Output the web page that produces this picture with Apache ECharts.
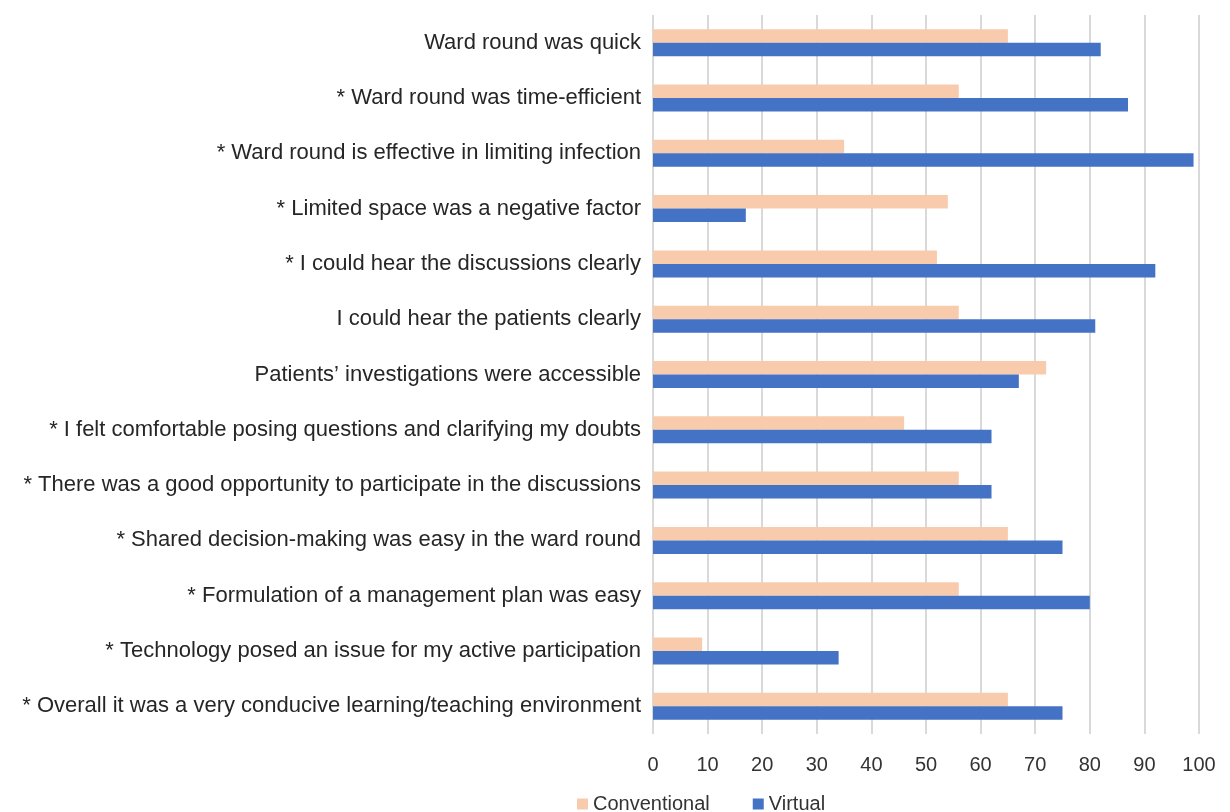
<!DOCTYPE html>
<html>
<head>
<meta charset="utf-8">
<script src="https://cdn.jsdelivr.net/npm/echarts@6/dist/echarts.min.js"></script>
<style>
  html, body { margin: 0; padding: 0; background: #fff; }
  #chart { width: 1230px; height: 812px; }
</style>
</head>
<body>
<div id="chart"></div>
<script>
var categories = [
    'Ward round was quick',
    '* Ward round was time-efficient',
    '* Ward round is effective in limiting infection',
    '* Limited space was a negative factor',
    '* I could hear the discussions clearly',
    'I could hear the patients clearly',
    'Patients\u2019 investigations were accessible',
    '* I felt comfortable posing questions and clarifying my doubts',
    '* There was a good opportunity to participate in the discussions',
    '* Shared decision-making was easy in the ward round',
    '* Formulation of a management plan was easy',
    '* Technology posed an issue for my active participation',
    '* Overall it was a very conducive learning/teaching environment'
];
var conventional = [65, 56, 35, 54, 52, 56, 72, 46, 56, 65, 56, 9, 65];
var virtual = [82, 87, 99, 17, 92, 81, 67, 62, 62, 75, 80, 34, 75];

var chart = echarts.init(document.getElementById('chart'));
var font = 'Liberation Sans, Arial, sans-serif';

chart.setOption({
    animation: false,
    textStyle: { fontFamily: font },
    legend: {
        left: 572,
        top: 789,
        itemWidth: 11,
        itemHeight: 11,
        itemGap: 43,
        icon: 'rect',
        textStyle: { fontSize: 20, color: '#333333', fontFamily: font },
        data: ['Conventional', 'Virtual']
    },
    grid: { left: 653, right: 31, top: 15, bottom: 78 },
    xAxis: {
        type: 'value',
        min: 0,
        max: 100,
        interval: 10,
        axisLine: { show: false },
        axisTick: { show: false },
        axisLabel: { fontSize: 20, color: '#333333', margin: 21 },
        splitLine: { lineStyle: { color: '#D9D9D9', width: 2 } }
    },
    yAxis: {
        type: 'category',
        inverse: true,
        data: categories,
        axisLine: { show: false },
        axisTick: { show: false },
        axisLabel: { fontSize: 22, color: '#262626', margin: 12 }
    },
    series: [
        {
            name: 'Conventional',
            type: 'bar',
            data: conventional,
            itemStyle: { color: '#F8CBAD' },
            barWidth: 13.5,
            barGap: '0%'
        },
        {
            name: 'Virtual',
            type: 'bar',
            data: virtual,
            itemStyle: { color: '#4472C4' },
            barWidth: 13.5,
            barGap: '0%'
        }
    ]
});
</script>
</body>
</html>
